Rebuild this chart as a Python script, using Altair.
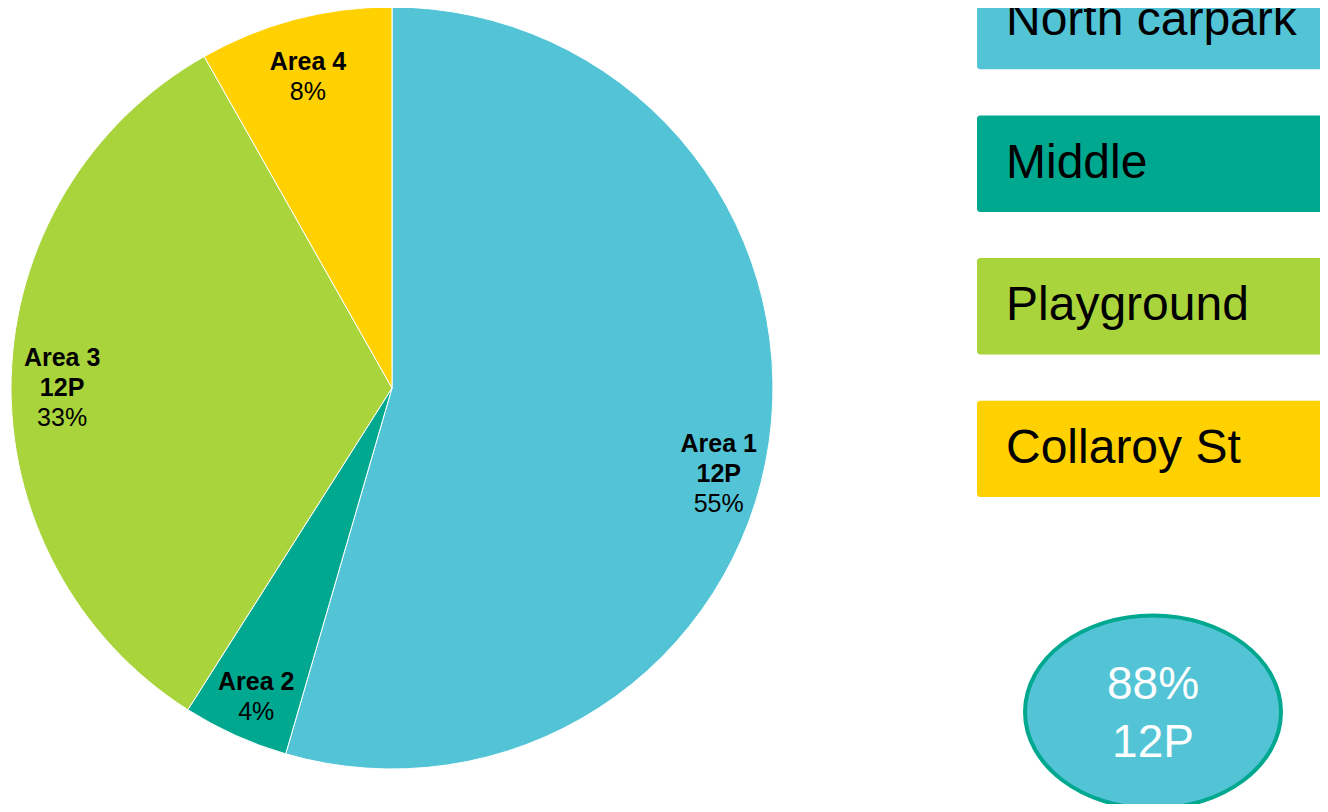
import altair as alt
import pandas as pd

# ---- data ----
areas = ["Area 1", "Area 2", "Area 3", "Area 4"]
shares = [54.5, 4.5, 32.8, 8.2]          # slice sizes
pct_labels = ["55%", "4%", "33%", "8%"]  # labels as printed
limits = ["12P", "", "12P", ""]
slice_colors = ["#53C4D6", "#00A890", "#AAD43C", "#FFD100"]
regions = ["North carpark", "Middle", "Playground", "Collaroy St"]
region_colors = ["#53C4D6", "#00A890", "#AAD43C", "#FFD100"]
summary_pct = "88%"
summary_limit = "12P"

pie_df = pd.DataFrame({"area": areas, "share": shares, "limit": limits,
                       "pct": pct_labels, "order": list(range(len(areas)))})
biggest = pie_df["share"].idxmax()


def pick(cond):
    return [cond(i) for i in range(len(areas))]


# label groups: largest slice (placed a bit lower, like the source's best-fit),
# other slices with a limit line (3 lines) and slices without one (2 lines)
pie_df["boldB"] = [areas[i] + ("\n" + limits[i] if limits[i] else "") if i == biggest else "" for i in range(len(areas))]
pie_df["pctB"] = [pct_labels[i] if i == biggest else "" for i in range(len(areas))]
pie_df["bold3"] = [areas[i] + "\n" + limits[i] if (limits[i] and i != biggest) else "" for i in range(len(areas))]
pie_df["pct3"] = [pct_labels[i] if (limits[i] and i != biggest) else "" for i in range(len(areas))]
pie_df["bold2"] = [areas[i] if (not limits[i] and i != biggest) else "" for i in range(len(areas))]
pie_df["pct2"] = [pct_labels[i] if (not limits[i] and i != biggest) else "" for i in range(len(areas))]

leg_df = pd.DataFrame({"region": regions, "fillc": region_colors})
sum_df = pd.DataFrame({"label": [summary_pct + "\n" + summary_limit]})

W, H = 1312, 796
CX, CY, R = 384, 380, 381
LR = 330
FONT = "Liberation Sans"
FS = 25
LH = 30
BASE_DY = 8
BIG_DY = 32

base = alt.Chart(pie_df).encode(
    theta=alt.Theta("share:Q", stack=True),
    order=alt.Order("order:Q"),
)

pie = base.mark_arc(radius=R, x=CX, y=CY, stroke="white", strokeWidth=1).encode(
    color=alt.Color("area:N", scale=alt.Scale(domain=areas, range=slice_colors), legend=None)
)


def lab(field, dy, bold):
    kw = dict(radius=LR, x=CX, y=CY, baseline="middle", lineBreak="\n", lineHeight=LH,
              fontSize=FS, font=FONT, color="black", align="center", dy=dy + BASE_DY)
    if bold:
        kw["fontWeight"] = "bold"
    return base.mark_text(**kw).encode(text=f"{field}:N")


labels = [
    lab("boldB", -LH + BIG_DY, True),
    lab("pctB", LH + BIG_DY, False),
    lab("bold3", -LH, True),
    lab("pct3", LH, False),
    lab("bold2", -LH / 2, True),
    lab("pct2", LH / 2, False),
]

yscale = alt.Scale(domain=regions, range=[-35, 489], paddingInner=0.324, paddingOuter=0)

leg_rect = alt.Chart(leg_df).mark_rect(cornerRadius=3, x=969, x2=1340).encode(
    y=alt.Y("region:N", scale=yscale, axis=None, sort=regions),
    fill=alt.Fill("fillc:N", scale=None),
)

leg_text = alt.Chart(leg_df).mark_text(
    align="left", baseline="middle", fontSize=48, font=FONT, color="black", x=998
).encode(
    y=alt.Y("region:N", scale=yscale, axis=None, sort=regions),
    text="region:N",
)

ell_path = "M -1 0 A 1 0.754 0 1 1 1 0 A 1 0.754 0 1 1 -1 0 Z"
ellipse = alt.Chart(sum_df).mark_point(
    shape=ell_path, size=65536, filled=False, fill="#53C4D6", fillOpacity=1,
    stroke="#00A890", strokeWidth=4, opacity=1
).encode(x=alt.value(1145), y=alt.value(704))

ell_text = alt.Chart(sum_df).mark_text(
    align="center", baseline="middle", fontSize=46, font=FONT, color="white",
    lineBreak="\n", lineHeight=58
).encode(x=alt.value(1145), y=alt.value(677), text="label:N")

chart = alt.layer(pie, *labels, leg_rect, leg_text, ellipse, ell_text).properties(
    width=W, height=H, padding=0,
    autosize=alt.AutoSizeParams(type="none"),
    background="white",
).configure_view(stroke=None)

chart.save("out.html", embed_options={"renderer": "svg", "actions": False})
